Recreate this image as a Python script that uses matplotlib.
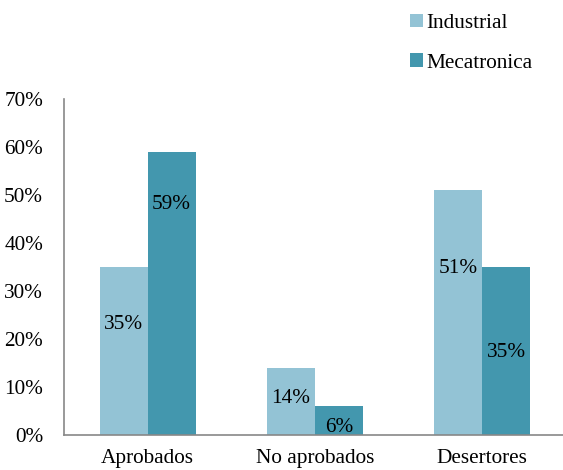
import numpy as np
import matplotlib.pyplot as plt

plt.rcParams['font.family'] = ['Liberation Serif', 'DejaVu Serif']

categorias = ["Aprobados", "No aprobados", "Desertores"]
industrial = [35, 14, 51]
mecatronica = [59, 6, 35]

# height of each value label inside its bar, as share of the bar
pos_ind = [0.655, 0.55, 0.68]
pos_mec = [0.815, 0.25, 0.49]

c_ind = "#93C3D5"
c_mec = "#4397AE"
fs = 15.3

fig = plt.figure(figsize=(5.63, 4.70), dpi=100)
ax = fig.add_axes([64/563, 35/470, 502/563, 336/470])

x = np.arange(len(categorias))
w = 0.287
b1 = ax.bar(x - w/2, industrial, w, color=c_ind, label="Industrial")
b2 = ax.bar(x + w/2, mecatronica, w, color=c_mec, label="Mecatronica")

for i in range(len(x)):
    ax.text(x[i] - w/2, industrial[i] * pos_ind[i], f"{industrial[i]}%",
            ha="center", va="center", fontsize=fs)
    ax.text(x[i] + w/2, mecatronica[i] * pos_mec[i], f"{mecatronica[i]}%",
            ha="center", va="center", fontsize=fs)

ax.set_xlim(-0.5, 2.5)
ax.set_ylim(0, 70)
ax.set_yticks(range(0, 71, 10))
ax.set_yticklabels([f"{v}%" for v in range(0, 71, 10)], fontsize=fs)
ax.set_xticks(x)
ax.set_xticklabels(categorias, fontsize=fs)
ax.tick_params(axis="x", length=0, pad=10)
ax.tick_params(axis="y", length=0, pad=15)

for s in ["top", "right"]:
    ax.spines[s].set_visible(False)
for s in ["left", "bottom"]:
    ax.spines[s].set_color("#888888")
    ax.spines[s].set_linewidth(1.2)

fig.legend(handles=[b1, b2], loc="upper left", bbox_to_anchor=(410/563, 1 - 14/470),
           frameon=False, fontsize=fs, handlelength=0.6, handleheight=0.6,
           handletextpad=0.15, labelspacing=0.95, borderpad=0, borderaxespad=0)

fig.savefig("out.png", dpi=100)
